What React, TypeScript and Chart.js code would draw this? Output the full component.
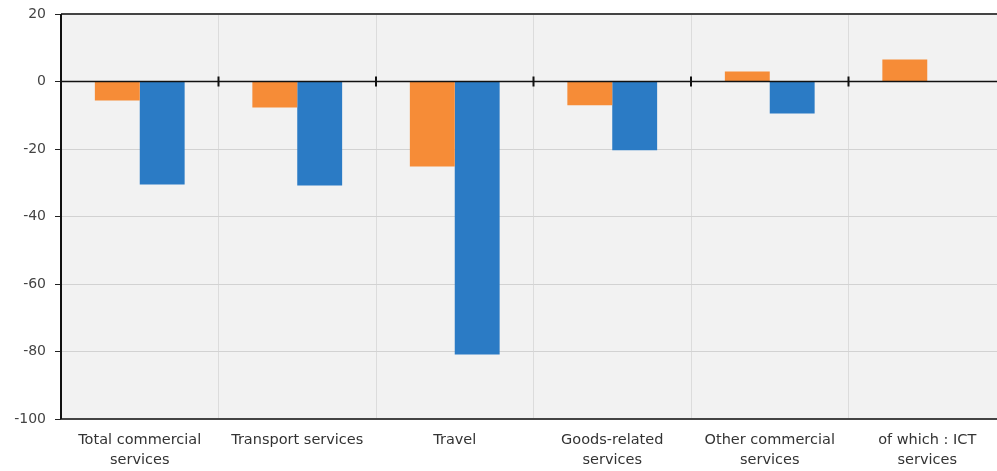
import React, { useEffect, useRef } from "react";
import { Chart, registerables } from "chart.js";

Chart.register(...registerables);

const categories: string[][] = [
  ["Total commercial", "services"],
  ["Transport services"],
  ["Travel"],
  ["Goods-related", "services"],
  ["Other commercial", "services"],
  ["of which : ICT", "services"],
];
const seriesOrange: number[] = [-5.6, -7.7, -25.2, -7.0, 3.0, 6.5];
const seriesBlue: number[] = [-30.5, -30.8, -80.9, -20.4, -9.5, 0];
const yTicks: number[] = [20, 0, -20, -40, -60, -80, -100];

const framePlugin = {
  id: "frame",
  beforeDraw(chart: any) {
    const { ctx, chartArea } = chart;
    ctx.save();
    ctx.fillStyle = "#f2f2f2";
    ctx.fillRect(chartArea.left, chartArea.top, chartArea.right - chartArea.left, chartArea.bottom - chartArea.top);
    ctx.restore();
  },
  afterDatasetsDraw(chart: any) {
    const { ctx, chartArea, scales } = chart;
    const y0 = scales.y.getPixelForValue(0);
    ctx.save();
    ctx.strokeStyle = "#111";
    ctx.lineWidth = 1.5;
    ctx.beginPath();
    ctx.moveTo(chartArea.left, y0);
    ctx.lineTo(chartArea.right, y0);
    ctx.stroke();
    ctx.lineWidth = 2;
    const n = categories.length;
    for (let i = 1; i < n; i++) {
      const x = (scales.x.getPixelForValue(i - 1) + scales.x.getPixelForValue(i)) / 2;
      ctx.beginPath();
      ctx.moveTo(x, y0 - 5);
      ctx.lineTo(x, y0 + 5);
      ctx.stroke();
    }
    ctx.strokeStyle = "#444";
    ctx.lineWidth = 2;
    ctx.beginPath();
    ctx.moveTo(chartArea.left, chartArea.top);
    ctx.lineTo(chartArea.right, chartArea.top);
    ctx.stroke();
    ctx.beginPath();
    ctx.moveTo(chartArea.left, chartArea.bottom);
    ctx.lineTo(chartArea.right, chartArea.bottom);
    ctx.stroke();
    ctx.strokeStyle = "#111";
    ctx.beginPath();
    ctx.moveTo(chartArea.left, chartArea.top);
    ctx.lineTo(chartArea.left, chartArea.bottom);
    ctx.stroke();
    ctx.restore();
  },
};

export default function App() {
  const ref = useRef<HTMLCanvasElement | null>(null);
  useEffect(() => {
    if (!ref.current) return;
    const chart = new Chart(ref.current, {
      type: "bar",
      data: {
        labels: categories as any,
        datasets: [
          { label: "A", data: seriesOrange, backgroundColor: "#F68C37", barPercentage: 1, categoryPercentage: 0.57 },
          { label: "B", data: seriesBlue, backgroundColor: "#2B7BC5", barPercentage: 1, categoryPercentage: 0.57 },
        ],
      },
      options: {
        animation: false,
        responsive: false,
        maintainAspectRatio: false,
        layout: { padding: { top: 14, right: 4, left: 0, bottom: 0 } },
        plugins: { legend: { display: false }, tooltip: { enabled: false } },
        scales: {
          x: {
            grid: { color: "#dcdcdc", lineWidth: 1, drawTicks: false, offset: true },
            border: { display: false },
            ticks: {
              color: "#333",
              font: { family: "DejaVu Sans", size: 14.5, lineHeight: 1.38 },
              padding: 11,
              maxRotation: 0,
              autoSkip: false,
            },
            afterFit(scale: any) {
              scale.height = 52;
              scale.paddingLeft = 0;
              scale.paddingRight = 0;
            },
          },
          y: {
            min: -100,
            max: 20,
            afterBuildTicks(scale: any) {
              scale.ticks = yTicks.map((v) => ({ value: v }));
            },
            grid: {
              color: (c: any) => (c.tick && c.tick.value === 0 ? "rgba(0,0,0,0)" : "#d2d2d2"),
              tickColor: "#222",
              tickLength: 6,
              lineWidth: 1,
            },
            border: { display: false },
            ticks: {
              color: "#444",
              font: { family: "DejaVu Sans", size: 14 },
              padding: 9,
            },
            afterFit(scale: any) {
              scale.width = 61;
              scale.paddingTop = 0;
              scale.paddingBottom = 0;
            },
          },
        },
      },
      plugins: [framePlugin],
    });
    return () => chart.destroy();
  }, []);
  return (
    <div style={{ position: "fixed", left: 0, top: 0, width: 997, height: 471, overflow: "hidden", background: "#fff" }}>
      <canvas ref={ref} width={1010} height={471} style={{ width: 1010, height: 471, display: "block" }} />
    </div>
  );
}
